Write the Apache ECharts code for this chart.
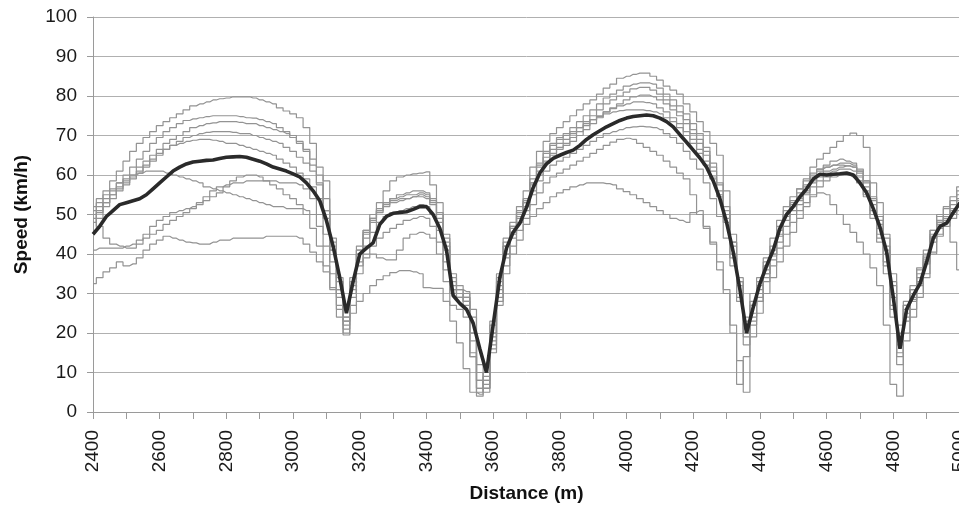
<!DOCTYPE html>
<html>
<head>
<meta charset="utf-8">
<title>Speed vs distance</title>
<script src="https://cdn.jsdelivr.net/npm/echarts@6/dist/echarts.min.js"></script>
<style>
  html, body { margin: 0; padding: 0; background: #fff; }
  #chart { width: 959px; height: 506px; }
</style>
</head>
<body>
<div id="chart"></div>
<script>
// every run is sampled once per 20 m, starting at 2400 m
const startDist = 2400;
const stepDist = 20;
const xLabels = [2400, 2600, 2800, 3000, 3200, 3400, 3600, 3800, 4000, 4200, 4400, 4600, 4800, 5000];

// speed (km/h) of the single runs
const run1 = [
  52, 54, 56, 58.5, 61, 63.5, 66, 68, 69.5, 71,
  72.5, 73.5, 74.5, 75.5, 76.5, 77.5, 78, 78.5, 79, 79.3,
  79.5, 79.8, 79.8, 79.8, 79.5, 79, 78.5, 78, 77, 76.2,
  75.5, 74.5, 72, 68, 62, 58.5, 43, 33, 23, 30,
  40, 46, 50, 53, 56, 58.5, 59.5, 60, 60.3, 60.5,
  60.8, 57.5, 53, 45, 33, 30, 29, 14, 5, 8,
  20, 32, 42, 47, 52, 56, 62, 66, 68.5, 70.5,
  72, 73.5, 75, 76.5, 78, 79, 80.5, 82, 83, 84.5,
  85, 85.5, 85.8, 85.8, 85, 84, 82.5, 81.5, 80.5, 78,
  76, 73.5, 71, 68, 65, 56, 45, 33, 20, 24,
  28, 35, 40, 46, 50, 53, 56.5, 59, 62, 64,
  65.5, 67, 68.5, 70, 70.6, 70, 67, 58, 53, 45,
  33, 18, 27, 31, 36, 40, 46, 50, 52, 54.5,
  57
];
const run2 = [
  50, 52, 54, 56, 58, 60, 62, 64, 66, 68,
  69.5, 71, 72, 73, 73.8, 74.2, 74.5, 74.8, 75, 75,
  75, 75, 74.8, 74.5, 74.4, 74, 73.5, 73, 72, 71,
  70, 68.5, 66, 62.5, 58, 51, 41, 30, 24, 32,
  41, 45, 48.5, 51, 53, 54, 55, 55.5, 56, 56,
  55.5, 54, 50, 42, 32, 31, 29, 20, 8, 9,
  23, 35, 44, 48, 51, 54, 59, 63, 66, 68,
  69.5, 70.5, 72, 73.5, 75, 76.5, 78, 79.5, 80.5, 81.5,
  82.5, 83, 83.3, 83.3, 83, 82, 80.5, 79, 77.5, 75.5,
  73, 70.5, 67, 63, 58, 52, 43, 33, 22, 27,
  33, 38, 42, 47, 51, 53.5, 55.5, 57.5, 60, 61.5,
  62.5, 63.5, 64, 63.5, 63, 61.5, 58.5, 54, 48.5, 42,
  32, 20, 27, 31, 35, 39.5, 45, 48.5, 50, 52.5,
  55
];
const run3 = [
  48, 50.5, 53, 55, 57, 58.5, 60, 62, 63.5, 65,
  66.5, 68, 69, 70, 71, 72, 72.5, 73, 73.2, 73.5,
  73.5, 73.5, 73.3, 73, 73, 72.5, 72, 71.5, 71, 70.5,
  69.5, 68, 66.5, 64, 60, 54, 44, 34, 26, 34,
  42, 46, 49, 51.5, 53, 54, 54.5, 55, 55, 55.5,
  55, 53.5, 50.5, 44, 35, 32, 30, 24, 10, 7,
  20, 33, 42, 46.5, 50, 53.5, 58, 62, 64.5, 66.5,
  68, 69, 70.5, 72, 73.5, 75, 76.5, 78, 79, 80,
  81, 81.8, 82.2, 82.2, 81.5, 80.5, 79, 77.5, 76, 74,
  71.5, 69, 66, 62, 57.5, 51, 42, 32, 23, 28,
  32, 37, 41, 46, 50, 52.5, 54.5, 57, 59.5, 61,
  62, 62.5, 63, 63, 62.5, 61, 58, 53.5, 47.5, 41,
  30, 19, 26, 30, 34, 39, 44.5, 48, 49.5, 51.5,
  54
];
const run4 = [
  46, 49, 52, 54, 56, 57.5, 59, 60.5, 62, 63.5,
  65, 66.5, 67.5, 68.5, 69.5, 70, 70.5, 70.8, 71, 71,
  71, 70.8, 70.5, 70.5, 70, 69.5, 69, 68.5, 68, 67,
  66, 64.5, 63, 61, 57.5, 51, 42, 31, 23, 31,
  40, 44, 48, 50.5, 52, 53, 53.5, 54, 54.5, 54.5,
  54, 53, 49, 43, 34, 31, 30.5, 26, 12, 6,
  18, 31, 40, 45, 49, 52, 56, 60, 63, 65,
  66.5, 67.5, 68.5, 70, 71.5, 73, 74.5, 76, 77, 78,
  79, 79.8, 80.2, 80.2, 79.8, 79, 78, 76.5, 75, 73,
  70.5, 68, 65, 61, 56, 49, 40, 30, 21, 27,
  31, 36, 40, 45, 49.5, 52, 54, 56, 58.5, 60,
  61, 61.5, 62, 62.3, 62, 60.5, 57, 52.5, 46.5, 40,
  29, 17, 25, 29, 33, 38.5, 44, 47.5, 49, 51,
  53.5
];
const run5 = [
  49, 51, 53, 55, 56.5, 58, 59.5, 61, 62.5, 64,
  65.5, 66.5, 67.5, 68, 68.5, 68.8, 69, 69, 68.8, 68.5,
  68, 68, 67.5, 67, 66.5, 66, 65.5, 65, 64, 63,
  62, 60.5, 59, 57, 54, 49, 41, 31, 24, 33,
  41, 45.5, 49, 51, 52.5, 53.5, 54, 54, 54.5, 55,
  54.5, 52.5, 48, 41, 31, 29, 28, 18, 6, 10,
  22, 34, 43, 47, 50.5, 53, 57.5, 61, 63.5, 65.5,
  67, 68, 69.5, 71, 72.5, 74, 75, 76, 76.8, 77.5,
  78, 78.5, 78.5, 78.3, 78, 77, 76, 74.5, 73, 71,
  69, 66.5, 63.5, 59.5, 55, 48, 39, 29, 19, 25,
  30, 35, 39.5, 44.5, 48.5, 51, 53.5, 55.5, 58, 59.5,
  60.5, 61, 61.5, 61.5, 61, 59.5, 56, 51, 45, 38,
  27, 15, 24, 28.5, 32.5, 37.5, 43, 46.5, 48.5, 50,
  52
];
const run6 = [
  51, 53, 55, 56.5, 58, 59, 60, 60.5, 61, 61,
  61, 60.5, 60, 59.5, 59, 58.5, 58, 57, 56.5, 56,
  55.5, 55, 54.5, 54, 53.5, 53, 52.5, 52, 52, 51.5,
  51.5, 51.5, 51, 50, 47, 42, 35, 27, 21, 30,
  37, 40, 40, 39, 38.5, 38.5, 41, 44, 45, 45.5,
  45, 44, 40, 33, 27, 26, 24, 14, 6, 8,
  19, 30, 39, 44, 48, 51, 55, 58.5, 61, 62.5,
  63.5, 64.5, 65.5, 66.5, 67.5, 68.5, 69.5, 70.5, 71, 71.5,
  72, 72.2, 72.3, 72.2, 72, 71.5, 70.5, 69.5, 68, 66,
  64, 61.5, 58, 54, 49.5, 44, 37, 28, 17, 22,
  29, 34, 38.5, 43, 47, 50, 52.5, 55, 57, 58.5,
  59.5, 60, 60.5, 60.5, 60, 58.5, 55, 50, 44, 37,
  26, 14, 23, 28, 32, 38, 44, 48, 49.5, 43,
  36
];
const run7 = [
  41, 41.5, 41.5, 41.5, 41.5, 42, 42.5, 43.5, 45, 47,
  48.5, 49.5, 50.5, 51, 51.5, 52, 53, 54.5, 56, 57,
  57.5, 58, 58, 58.5, 58.5, 58.5, 58.5, 58.5, 58, 58,
  58, 57.5, 56.5, 54, 50, 45, 38, 29, 22, 29,
  38, 42, 45.5, 48, 49.5, 50.5, 51, 51.5, 52, 52.5,
  52, 50, 46, 38, 30, 29, 27, 15, 4, 6,
  17, 28, 37, 42, 46, 49, 52.5, 55.5, 58, 59.5,
  60.5, 61.5, 62.5, 63.5, 64.5, 65.5, 66.5, 67.5, 68.3, 69,
  69.3, 69, 68, 67, 66, 65, 63.5, 62, 60.5, 59,
  55, 50, 46.5, 42.5, 36, 31, 20, 7, 14, 23,
  28, 33, 37, 41.5, 45, 48, 51, 53, 54.5, 55.5,
  55, 52.5, 50, 47.5, 45.5, 43, 40, 36.5, 32, 22,
  7, 4, 18, 24, 29, 34, 40, 45, 48, 50.5,
  52
];
const run8 = [
  32.5, 34, 35.5, 36.5, 38, 37, 37.5, 39, 41, 42.5,
  43.5, 44.5, 44, 43.5, 43, 42.8, 42.5, 42.5, 43, 43.5,
  43.5, 44, 44, 44, 44, 44, 44.5, 44.5, 44.5, 44.5,
  44.5, 44, 42.5, 40.5, 38, 35.5, 31.5, 26, 19.5, 25,
  28, 30, 32, 33.5, 34.5, 35.3, 35.8, 35.8, 35.5, 35,
  31.5, 31.3, 31.3, 28, 23, 17.5, 11, 5, 4.5, 6,
  15, 27, 35, 40, 43.5, 47.5, 49.5, 51.5, 53, 54.5,
  55.5, 56.3, 57, 57.5, 58, 58, 58, 57.8, 57.5, 56.5,
  55.8, 55, 54, 53, 52, 51, 50, 49, 48.5, 48,
  50.5, 51, 47, 43, 38, 30, 22, 13, 5, 19,
  25, 30, 34, 38, 42, 45.5, 49, 52, 55, 57,
  58.5, 59.5, 60, 60, 59.5, 58, 54.5, 49, 43, 35,
  24, 12, 20, 26, 30, 35, 40.5, 44.5, 47, 49,
  51
];
const run9 = [
  50, 47, 44, 42.5, 42, 41.5, 41.5, 42.5, 44, 45,
  46, 47.5, 48.5, 49.5, 50.5, 51.5, 52.5, 53.5, 54.5, 55.5,
  57, 58.5, 59.5, 60, 60, 59.5, 58.5, 57.5, 56.5, 55,
  54, 52.5, 50, 46.5, 42, 37, 31, 24, 20, 27,
  35, 39, 42, 44, 45.5, 46.5, 47.5, 48.5, 49, 49.5,
  49, 47, 43, 36, 31, 30, 28, 20, 8, 5,
  16, 29, 40, 45.5, 49.5, 53, 58, 62.5, 65.5, 67.5,
  69, 70, 71, 72, 73, 74, 74.8, 75.5, 76, 76.3,
  76.5, 76.5, 76.5, 76.3, 76, 75.5, 74.5, 73.5, 72, 70,
  68, 65.5, 62.5, 59, 54.5, 50, 43, 34, 24, 30,
  34, 39, 44, 48.5, 52, 54.5, 56.5, 58.5, 60.5, 61.5,
  62, 62.5, 62.5, 62.3, 62, 61, 58.5, 54.5, 49.5, 44,
  35, 22, 28, 32, 36.5, 41, 46, 49.5, 51.5, 53.5,
  56
];
// average of the runs (thick line)
const meanRun = [
  45, 47, 49.5, 51, 52.5, 53, 53.5, 54, 55, 56.5,
  58, 59.5, 61, 62, 62.8, 63.3, 63.5, 63.7, 63.8, 64.2,
  64.5, 64.6, 64.7, 64.5, 64, 63.5, 62.8, 62, 61.5, 61,
  60.3, 59.5, 58, 56, 53.5, 48.5, 42, 34, 25, 33,
  40, 41.5, 42.8, 47.5, 49.5, 50.3, 50.5, 50.7, 51.3, 52,
  52, 50, 46.5, 41, 29.5, 27.5, 26, 22.5, 16, 10,
  22, 34, 41.5, 45.5, 47.8, 51.8, 56.8, 60.5, 62.8, 64.2,
  65, 65.7, 66.3, 67.5, 69, 70.2, 71.2, 72.2, 73, 73.8,
  74.4, 74.8, 75, 75.2, 75, 74.4, 73.5, 72.2, 70.2, 68.3,
  66.3, 64.3, 62, 58.5, 54, 48, 40.5, 31, 20, 26.5,
  32.5, 37, 41, 46.5, 50, 52, 54.5, 56.5, 59, 60.2,
  60, 60.2, 60.3, 60.5, 60, 58, 55.5, 51.5, 46.8, 40.5,
  29, 16, 26, 29.5, 32.5, 38, 44, 47, 47.8, 50.5,
  53
];

const runs = [run1, run2, run3, run4, run5, run6, run7, run8, run9];
[...runs, meanRun].forEach((r, i) => {
  if (r.length !== 131) throw new Error("series " + i + " has " + r.length + " values");
});

function toPoints(values) {
  return values.map((v, i) => [startDist + i * stepDist, v]);
}

const fontFamily = "'Liberation Sans', Arial, sans-serif";
const chart = echarts.init(document.getElementById("chart"));

let series = runs.map((r, i) => {
  return {
    name: "run " + (i + 1),
    type: "line",
    step: "middle",
    symbol: "none",
    silent: true,
    lineStyle: { color: "#939393", width: 1.2 },
    data: toPoints(r),
  };
});
series.push({
  name: "average",
  type: "line",
  symbol: "none",
  silent: true,
  z: 5,
  lineStyle: { color: "#2a2a2a", width: 3.6 },
  data: toPoints(meanRun),
});

const option = {
  animation: false,
  backgroundColor: "#fff",
  grid: {
    left: 93,
    top: 17,
    width: 867,
    height: 395,
    containLabel: false,
    outerBoundsMode: "none",
  },
  xAxis: {
    type: "value",
    min: 2400,
    max: 5000,
    interval: 100,
    name: "Distance (m)",
    nameLocation: "middle",
    nameGap: 72,
    nameTextStyle: { fontFamily: fontFamily, fontSize: 19, fontWeight: "bold", color: "#111" },
    axisLine: { show: true, lineStyle: { color: "#9a9a9a", width: 1 } },
    axisTick: { show: true, inside: false, length: 7, lineStyle: { color: "#9a9a9a" } },
    axisLabel: {
      rotate: 90,
      margin: 18,
      fontFamily: fontFamily,
      fontSize: 19,
      color: "#1a1a1a",
      showMaxLabel: true,
      formatter: (v) => (xLabels.includes(v) ? String(v) : ""),
    },
    splitLine: { show: false },
  },
  yAxis: {
    type: "value",
    min: 0,
    max: 100,
    interval: 10,
    name: "Speed (km/h)",
    nameLocation: "middle",
    nameGap: 62,
    nameTextStyle: { fontFamily: fontFamily, fontSize: 19, fontWeight: "bold", color: "#111" },
    axisLine: { show: true, lineStyle: { color: "#9a9a9a", width: 1 } },
    axisTick: { show: true, inside: false, length: 6, lineStyle: { color: "#9a9a9a" } },
    axisLabel: { margin: 16, fontFamily: fontFamily, fontSize: 19, color: "#1a1a1a" },
    splitLine: { show: true, lineStyle: { color: "#b0b0b0", width: 1 } },
  },
  series: series,
};
chart.setOption(option);
</script>
</body>
</html>
